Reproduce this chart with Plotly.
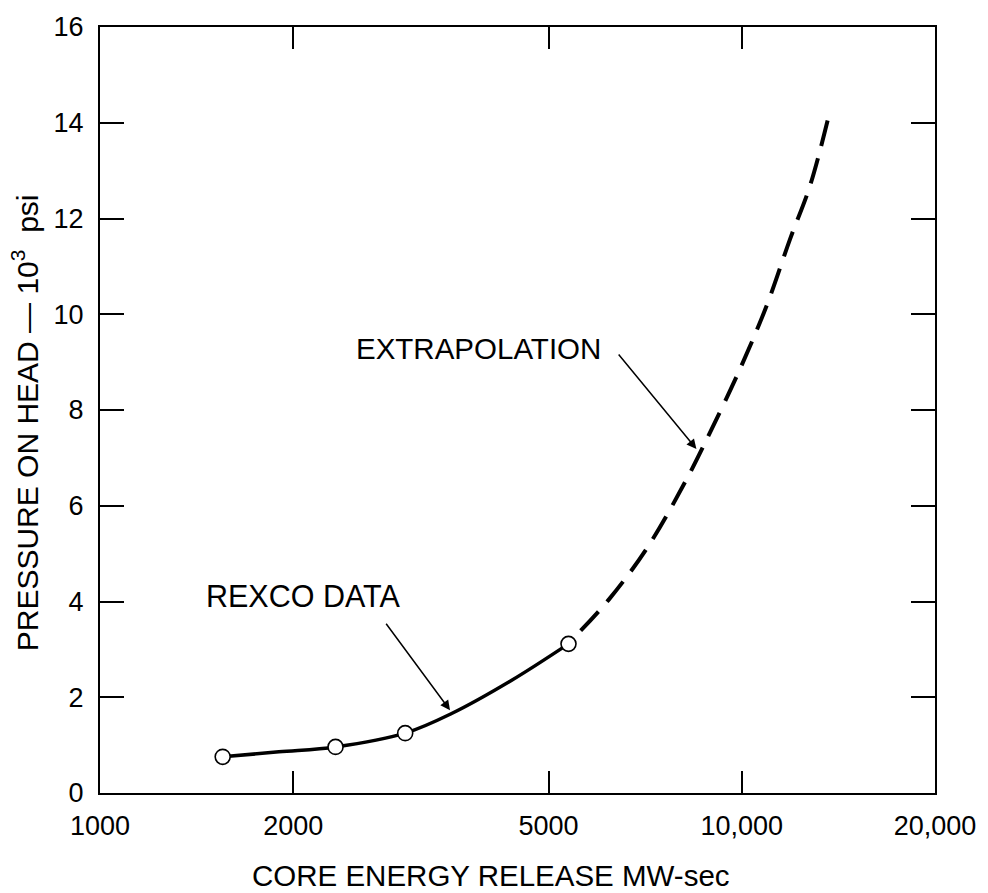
import plotly.graph_objects as go

# --- data ---
rexco_energy = [1553, 2328, 2989, 5370]          # MW-sec (measured points)
rexco_pressure = [0.755, 0.963, 1.25, 3.115]      # 10^3 psi

fit_energy = [1553, 1900, 2328, 2989, 3531, 4374, 5370]
fit_pressure = [0.755, 0.86, 0.963, 1.25, 1.66, 2.35, 3.115]

extrap_energy = [5610, 6214, 7125, 8171, 8936, 9946, 10940, 11890, 12770, 13630]
extrap_pressure = [3.39, 4.05, 5.125, 6.51, 7.55, 8.87, 10.19, 11.57, 12.68, 14.09]

x_tickvals = [1000, 2000, 5000, 10000, 20000]
x_ticktext = ["1000", "2000", "5000", "10,000", "20,000"]
y_tickvals = [0, 2, 4, 6, 8, 10, 12, 14, 16]
y_ticktext = ["0", "2", "4", "6", "8", "10", "12", "14", "16"]

FONT = "Liberation Sans, Arial, Helvetica, sans-serif"

fig = go.Figure()

fig.add_trace(go.Scatter(
    x=extrap_energy, y=extrap_pressure, mode="lines",
    line=dict(color="black", width=4, dash="26px,13px", shape="spline", smoothing=1.0),
    hoverinfo="skip", showlegend=False,
))
fig.add_trace(go.Scatter(
    x=fit_energy, y=fit_pressure, mode="lines",
    line=dict(color="black", width=3.5, shape="spline", smoothing=1.0),
    hoverinfo="skip", showlegend=False,
))
fig.add_trace(go.Scatter(
    x=rexco_energy, y=rexco_pressure, mode="markers",
    marker=dict(size=15, color="white", line=dict(color="black", width=1.6)),
    showlegend=False,
))

fig.update_layout(
    width=988, height=893,
    margin=dict(l=100, r=49, t=24, b=100),
    paper_bgcolor="white", plot_bgcolor="white",
    font=dict(family=FONT, color="black"),
    xaxis=dict(
        type="log", range=[3, 4.30103],
        tickvals=x_tickvals, ticktext=x_ticktext,
        ticks="inside", ticklen=22, tickwidth=1.5, tickcolor="black",
        showline=True, linewidth=2, linecolor="black", mirror="ticks",
        showgrid=False, zeroline=False,
        tickfont=dict(size=27, family=FONT, color="black"),
        ticklabelstandoff=8,
    ),
    yaxis=dict(
        range=[0, 16],
        tickvals=y_tickvals, ticktext=y_ticktext,
        ticks="inside", ticklen=24, tickwidth=1.5, tickcolor="black",
        showline=True, linewidth=2, linecolor="black", mirror="ticks",
        showgrid=False, zeroline=False,
        tickfont=dict(size=27, family=FONT, color="black"),
        ticklabelstandoff=9,
    ),
    annotations=[
        dict(text="CORE ENERGY RELEASE MW-sec", xref="paper", yref="paper",
             x=0.4678, y=-0.1079, xanchor="center", yanchor="middle",
             showarrow=False, font=dict(size=29.5, family=FONT, color="black")),
        dict(text="PRESSURE ON HEAD \u2014 10<sup>3</sup>  psi", xref="paper", yref="paper",
             x=-0.0894, y=0.4831, xanchor="center", yanchor="middle", textangle=-90,
             showarrow=False, font=dict(size=30, family=FONT, color="black")),
        dict(text="REXCO DATA", xref="paper", yref="paper",
             x=0.2434, y=0.2575, xanchor="center", yanchor="middle",
             showarrow=False, font=dict(size=30.5, family=FONT, color="black")),
        dict(text="EXTRAPOLATION", xref="paper", yref="paper",
             x=0.4529, y=0.5804, xanchor="center", yanchor="middle",
             showarrow=False, font=dict(size=29.5, family=FONT, color="black")),
        # arrows
        dict(text="", x=3.5454, y=1.727, xref="x", yref="y",
             showarrow=True, ax=-65, ay=-88, axref="pixel", ayref="pixel",
             arrowhead=2, arrowsize=1.3, arrowwidth=1.5, arrowcolor="black", standoff=0),
        dict(text="", x=3.9293, y=7.185, xref="x", yref="y",
             showarrow=True, ax=-79, ay=-96, axref="pixel", ayref="pixel",
             arrowhead=2, arrowsize=1.3, arrowwidth=1.5, arrowcolor="black", standoff=0),
    ],
)

fig.write_html("out.html")
